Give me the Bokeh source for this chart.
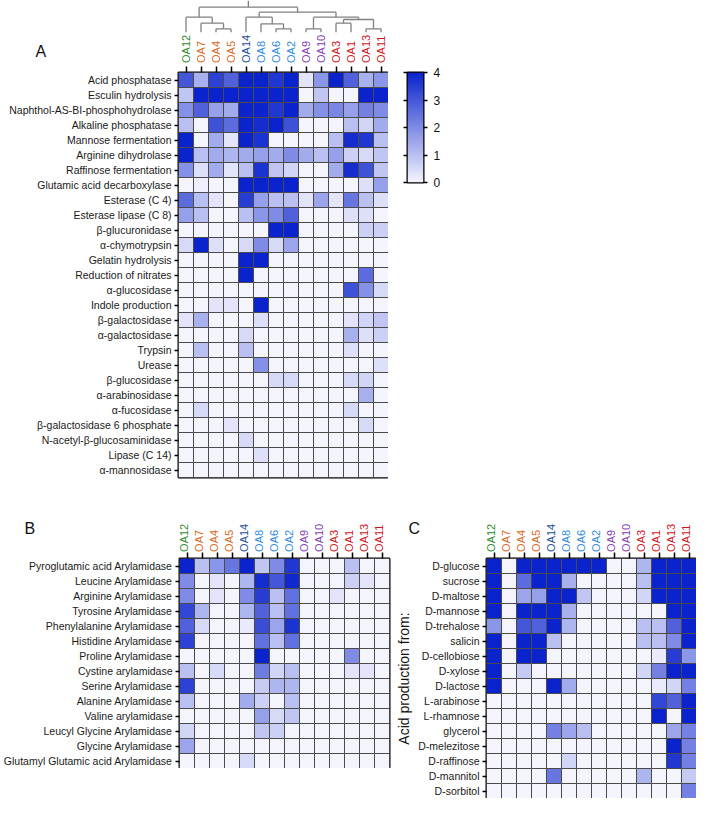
import numpy as np
from bokeh.plotting import figure
from bokeh.models import (Range1d, FactorRange, LinearColorMapper, FixedTicker,
                          LinearAxis, ColumnDataSource)
from bokeh.layouts import column, row
from bokeh.embed import file_html
from bokeh.resources import INLINE
from bokeh.core.properties import value

FONT = "Liberation Sans"

# ---------------- data ----------------
STRAINS = ["OA12", "OA7", "OA4", "OA5", "OA14", "OA8", "OA6", "OA2",
           "OA9", "OA10", "OA3", "OA1", "OA13", "OA11"]
STRAIN_COLORS = ["#2f8a2f", "#d8691e", "#d8691e", "#d8691e", "#1d4f96",
                 "#2f8ae0", "#2f8ae0", "#2f8ae0", "#8442b4", "#8442b4",
                 "#d0141c", "#d0141c", "#d0141c", "#d0141c"]

# hierarchical clustering of the strains: (member, member, height)
DENDRO_MERGES = [
    ("OA4", "OA5", 3.4),     # m0
    ("OA7", "m0", 9.0),      # m1
    ("OA12", "m1", 15.0),    # m2
    ("OA6", "OA2", 3.4),     # m3
    ("OA8", "m3", 8.4),      # m4
    ("OA14", "m4", 15.0),    # m5
    ("OA9", "OA10", 3.4),    # m6
    ("OA3", "OA1", 9.0),     # m7
    ("OA13", "OA11", 3.4),   # m8
    ("m7", "m8", 12.7),      # m9
    ("m6", "m9", 15.0),      # m10
    ("m5", "m10", 20.0),     # m11
    ("m2", "m11", 25.0),     # m12 (root)
]

A_TESTS = ["Acid phosphatase", "Esculin hydrolysis", "Naphthol-AS-BI-phosphohydrolase",
           "Alkaline phosphatase", "Mannose fermentation", "Arginine dihydrolase",
           "Raffinose fermentation", "Glutamic acid decarboxylase", "Esterase (C 4)",
           "Esterase lipase (C 8)", "β-glucuronidase", "α-chymotrypsin",
           "Gelatin hydrolysis", "Reduction of nitrates", "α-glucosidase",
           "Indole production", "β-galactosidase", "α-galactosidase", "Trypsin",
           "Urease", "β-glucosidase", "α-arabinosidase", "α-fucosidase",
           "β-galactosidase 6 phosphate", "N-acetyl-β-glucosaminidase",
           "Lipase (C 14)", "α-mannosidase"]
A_VALUES = [
    [3.0, 1.3, 3.4, 2.8, 4.0, 4.0, 3.6, 4.0, 0.3, 1.8, 4.0, 2.8, 1.3, 1.8],
    [0.9, 4.0, 4.0, 4.0, 4.0, 4.0, 4.0, 4.0, 0.0, 0.9, 0.0, 0.0, 4.0, 4.0],
    [1.9, 2.8, 1.6, 1.4, 4.0, 4.0, 3.6, 4.0, 1.4, 1.9, 2.1, 1.6, 2.2, 2.0],
    [1.0, 0.0, 3.1, 2.6, 4.0, 3.8, 4.0, 3.1, 0.0, 0.0, 0.0, 1.0, 0.6, 1.4],
    [4.0, 0.0, 1.4, 0.3, 4.0, 3.7, 0.0, 0.0, 0.0, 0.0, 1.0, 3.8, 3.6, 1.0],
    [4.0, 1.0, 1.4, 1.2, 1.4, 1.6, 1.4, 2.0, 1.4, 1.0, 1.6, 0.7, 0.5, 0.9],
    [1.9, 0.4, 1.4, 0.3, 1.0, 3.7, 0.9, 0.6, 0.0, 0.0, 1.4, 3.8, 3.1, 0.9],
    [0.0, 0.1, 0.0, 0.0, 4.0, 4.0, 4.0, 4.0, 0.0, 0.0, 0.0, 0.0, 0.4, 1.6],
    [2.6, 1.0, 0.3, 0.0, 3.5, 1.6, 1.0, 1.0, 0.3, 1.5, 0.3, 2.4, 1.0, 0.4],
    [1.6, 1.0, 0.0, 0.0, 1.0, 1.8, 2.0, 2.8, 0.0, 0.0, 0.0, 0.4, 0.4, 0.0],
    [0.0, 0.0, 0.0, 0.0, 0.0, 0.0, 4.0, 4.0, 0.0, 0.0, 0.0, 0.0, 0.7, 0.7],
    [0.5, 4.0, 0.4, 0.0, 0.5, 2.0, 0.5, 1.5, 0.0, 0.0, 0.0, 0.0, 0.0, 0.0],
    [0.0, 0.0, 0.0, 0.0, 4.0, 4.0, 0.0, 0.0, 0.0, 0.0, 0.0, 0.0, 0.0, 0.0],
    [0.0, 0.0, 0.0, 0.0, 4.0, 0.0, 0.0, 0.0, 0.0, 0.0, 0.0, 0.0, 2.6, 0.0],
    [0.0, 0.0, 0.0, 0.0, 0.0, 0.0, 0.0, 0.0, 0.0, 0.0, 0.0, 3.1, 1.9, 0.5],
    [0.0, 0.0, 0.3, 0.3, 0.0, 4.0, 0.0, 0.0, 0.0, 0.0, 0.0, 0.0, 0.0, 0.0],
    [0.3, 1.3, 0.0, 0.0, 0.0, 0.4, 0.0, 0.0, 0.0, 0.0, 0.0, 0.3, 0.6, 0.9],
    [0.0, 0.0, 0.0, 0.0, 0.5, 0.0, 0.0, 0.0, 0.0, 0.0, 0.0, 1.3, 0.4, 0.7],
    [0.0, 1.0, 0.0, 0.0, 1.0, 0.0, 0.0, 0.0, 0.0, 0.0, 0.0, 0.4, 0.0, 0.0],
    [0.0, 0.0, 0.0, 0.0, 0.0, 1.9, 0.0, 0.0, 0.0, 0.0, 0.0, 0.0, 0.0, 0.4],
    [0.0, 0.0, 0.0, 0.0, 0.0, 0.0, 0.5, 0.5, 0.0, 0.0, 0.0, 0.5, 0.6, 0.0],
    [0.0, 0.0, 0.0, 0.0, 0.0, 0.0, 0.0, 0.0, 0.0, 0.0, 0.0, 0.0, 1.3, 0.0],
    [0.0, 0.5, 0.0, 0.0, 0.0, 0.0, 0.0, 0.0, 0.0, 0.0, 0.0, 0.5, 0.0, 0.0],
    [0.0, 0.0, 0.0, 0.3, 0.0, 0.0, 0.0, 0.0, 0.0, 0.0, 0.0, 0.0, 0.5, 0.0],
    [0.0, 0.0, 0.0, 0.0, 0.5, 0.0, 0.0, 0.0, 0.0, 0.0, 0.0, 0.0, 0.0, 0.0],
    [0.0, 0.0, 0.0, 0.0, 0.0, 0.4, 0.0, 0.0, 0.0, 0.0, 0.0, 0.0, 0.0, 0.0],
    [0.0, 0.0, 0.0, 0.0, 0.0, 0.0, 0.0, 0.0, 0.0, 0.0, 0.0, 0.0, 0.0, 0.0],
]

B_TESTS = ["Pyroglutamic acid Arylamidase", "Leucine Arylamidase", "Arginine Arylamidase",
           "Tyrosine Arylamidase", "Phenylalanine Arylamidase", "Histidine Arylamidase",
           "Proline Arylamidase", "Cystine arylamidase", "Serine Arylamidase",
           "Alanine Arylamidase", "Valine arylamidase", "Leucyl Glycine Arylamidase",
           "Glycine Arylamidase", "Glutamyl Glutamic acid Arylamidase"]
B_VALUES = [
    [4.0, 1.0, 1.8, 2.4, 4.0, 0.9, 2.0, 3.6, 0.0, 0.0, 0.0, 1.0, 0.0, 0.0],
    [2.0, 0.0, 0.3, 0.0, 1.2, 3.8, 3.0, 3.9, 0.0, 0.0, 0.0, 0.7, 0.3, 0.0],
    [2.0, 0.0, 0.3, 0.0, 2.0, 3.5, 1.0, 2.5, 0.0, 0.0, 0.3, 0.0, 0.0, 0.0],
    [3.3, 1.2, 0.0, 0.0, 1.2, 2.8, 1.0, 2.5, 0.0, 0.0, 0.0, 0.0, 0.0, 0.0],
    [2.8, 0.5, 0.0, 0.0, 0.2, 3.2, 1.5, 3.7, 0.0, 0.0, 0.0, 0.0, 0.0, 0.0],
    [3.4, 0.0, 0.0, 0.0, 0.0, 2.5, 1.0, 2.5, 0.0, 0.0, 0.0, 0.0, 0.0, 0.0],
    [0.0, 0.0, 0.0, 0.0, 0.0, 4.0, 0.0, 0.0, 0.0, 0.0, 0.0, 2.0, 0.0, 0.0],
    [1.0, 0.0, 0.5, 0.0, 0.0, 2.3, 0.6, 1.0, 0.0, 0.0, 0.0, 0.3, 0.3, 0.0],
    [3.4, 0.0, 0.0, 0.0, 0.0, 0.8, 1.2, 1.2, 0.0, 0.0, 0.0, 0.0, 0.0, 0.0],
    [1.0, 0.0, 0.0, 0.0, 1.4, 0.7, 0.0, 1.0, 0.0, 0.0, 0.0, 0.0, 0.0, 0.0],
    [0.0, 0.0, 0.0, 0.0, 0.0, 1.6, 0.5, 0.9, 0.0, 0.0, 0.0, 0.0, 0.0, 0.0],
    [0.6, 0.0, 0.0, 0.0, 0.0, 0.9, 0.7, 0.0, 0.0, 0.0, 0.0, 0.0, 0.0, 0.0],
    [1.5, 0.0, 0.0, 0.0, 0.0, 0.0, 0.0, 0.0, 0.0, 0.0, 0.0, 0.0, 0.0, 0.0],
    [0.0, 0.0, 0.0, 0.0, 0.5, 0.0, 0.0, 0.0, 0.0, 0.0, 0.0, 0.0, 0.0, 0.0],
]

C_SUGARS = ["D-glucose", "sucrose", "D-maltose", "D-mannose", "D-trehalose", "salicin",
            "D-cellobiose", "D-xylose", "D-lactose", "L-arabinose", "L-rhamnose",
            "glycerol", "D-melezitose", "D-raffinose", "D-mannitol", "D-sorbitol"]
C_VALUES = [
    [4.0, 0.0, 4.0, 4.0, 4.0, 4.0, 4.0, 4.0, 0.0, 0.0, 1.2, 4.0, 4.0, 4.0],
    [4.0, 0.0, 2.6, 4.0, 4.0, 1.3, 0.0, 0.0, 0.0, 0.0, 1.0, 4.0, 4.0, 4.0],
    [4.0, 0.0, 1.5, 1.6, 4.0, 4.0, 0.9, 0.0, 0.0, 0.0, 0.6, 4.0, 4.0, 4.0],
    [4.0, 0.0, 4.0, 4.0, 4.0, 1.3, 0.0, 0.0, 0.0, 0.0, 0.0, 0.0, 4.0, 4.0],
    [1.8, 0.0, 3.0, 2.8, 4.0, 1.2, 0.0, 0.0, 0.0, 0.0, 1.0, 1.0, 2.8, 4.0],
    [4.0, 0.0, 4.0, 4.0, 1.0, 0.0, 0.0, 0.0, 0.0, 0.0, 1.0, 1.0, 2.0, 4.0],
    [4.0, 0.0, 4.0, 4.0, 0.0, 0.0, 0.0, 0.0, 0.0, 0.0, 0.0, 0.2, 3.5, 1.8],
    [4.0, 0.0, 0.8, 0.0, 0.0, 0.0, 0.0, 0.0, 0.0, 0.0, 0.6, 2.2, 4.0, 4.0],
    [4.0, 0.0, 0.0, 0.0, 4.0, 1.4, 0.0, 0.0, 0.0, 0.0, 0.0, 0.2, 0.6, 2.2],
    [0.0, 0.0, 0.0, 0.0, 0.0, 0.0, 0.0, 0.0, 0.0, 0.0, 0.0, 3.3, 2.8, 4.0],
    [0.0, 0.0, 0.0, 0.0, 0.0, 0.0, 0.0, 0.0, 0.0, 0.0, 0.0, 4.0, 0.0, 4.0],
    [0.0, 0.0, 0.0, 0.0, 2.2, 1.5, 1.0, 0.0, 0.0, 0.0, 0.0, 0.0, 1.5, 2.2],
    [0.0, 0.0, 0.0, 0.0, 0.0, 0.0, 0.0, 0.0, 0.0, 0.0, 0.0, 0.0, 4.0, 2.2],
    [0.0, 0.0, 0.0, 0.0, 0.0, 0.6, 0.0, 0.0, 0.0, 0.0, 0.0, 0.0, 3.6, 2.2],
    [0.0, 0.0, 0.0, 0.0, 2.4, 0.0, 0.0, 0.0, 0.0, 0.0, 1.2, 0.0, 0.0, 0.8],
    [0.0, 0.0, 0.0, 0.0, 0.0, 0.0, 0.0, 0.0, 0.0, 0.0, 0.0, 0.0, 0.0, 2.2],
]
C_TITLE = "Acid production from:"

SCALE_LOW, SCALE_HIGH = 0, 4
COLORBAR_TICKS = [0, 1, 2, 3, 4]

# ---------------- styling ----------------
CELL = 15
LOW_RGB = (244, 244, 253)
HIGH_RGB = (10, 35, 205)
_t = np.linspace(0, 1, 256)
PALETTE = ["#%02x%02x%02x" % tuple(int(round(lo + (hi - lo) * tt))
                                   for lo, hi in zip(LOW_RGB, HIGH_RGB)) for tt in _t]
mapper = LinearColorMapper(palette=PALETTE, low=SCALE_LOW, high=SCALE_HIGH)

COMMON = dict(output_backend="svg", toolbar_location=None)


def hide_labels(ax):
    ax.major_label_text_font_size = "0px"
    ax.major_label_text_color = None
    ax.major_label_standoff = 0


def heat(rows, vals, left, right, top, bottom, ylabel=None):
    xs, ys, vs = [], [], []
    for r, rv in zip(rows, vals):
        for s, v in zip(STRAINS, rv):
            xs.append(s); ys.append(r); vs.append(v)
    src = ColumnDataSource(dict(strain=xs, test=ys, v=vs))
    p = figure(x_range=FactorRange(*STRAINS), y_range=FactorRange(*rows[::-1]),
               frame_width=CELL * len(STRAINS), frame_height=CELL * len(rows),
               x_axis_location="above", min_border_left=left, min_border_right=right,
               min_border_top=top, min_border_bottom=bottom, **COMMON)
    p.rect(x="strain", y="test", width=1, height=1, source=src,
           fill_color={"field": "v", "transform": mapper},
           line_color="#4a4a4a", line_width=1)
    p.grid.visible = False
    p.outline_line_color = "black"
    p.outline_line_width = 2
    xa = p.xaxis[0]
    hide_labels(xa)
    xa.major_tick_out = 6
    xa.major_tick_in = 0
    xa.major_tick_line_width = 1.5
    xa.axis_line_color = None
    ya = p.yaxis[0]
    ya.major_label_text_font = FONT
    ya.major_label_text_font_size = "10.5px"
    ya.major_label_text_color = "#1a1a1a"
    ya.major_label_standoff = 3
    ya.major_tick_out = 4
    ya.major_tick_in = 0
    ya.major_tick_line_width = 1.5
    ya.axis_line_color = None
    if ylabel:
        ya.axis_label = ylabel
        ya.axis_label_text_font = FONT
        ya.axis_label_text_font_size = "14px"
        ya.axis_label_text_font_style = "normal"
        ya.axis_label_text_color = "#111111"
        ya.axis_label_standoff = 3
    return p


def header(width, left, y0, y1, letter, letter_x, letter_y, label_y, dendro=False):
    p = figure(width=width, height=int(round(y1 - y0)),
               x_range=Range1d(-left / CELL, (width - left) / CELL),
               y_range=Range1d(y0, y1), x_axis_type=None, y_axis_type=None,
               min_border=0, **COMMON)
    p.grid.visible = False
    p.outline_line_color = None
    if dendro:
        pos = {s: i + 0.5 for i, s in enumerate(STRAINS)}
        hgt = {s: 0.0 for s in STRAINS}
        x0s, y0s, x1s, y1s = [], [], [], []
        for k, (a, b, h) in enumerate(DENDRO_MERGES):
            for m in (a, b):
                x0s.append(pos[m]); y0s.append(hgt[m]); x1s.append(pos[m]); y1s.append(h)
            x0s.append(pos[a]); y0s.append(h); x1s.append(pos[b]); y1s.append(h)
            pos["m%d" % k] = (pos[a] + pos[b]) / 2
            hgt["m%d" % k] = h
        root = "m%d" % (len(DENDRO_MERGES) - 1)
        x0s.append(pos[root]); y0s.append(hgt[root]); x1s.append(pos[root]); y1s.append(y1)
        p.segment(x0=x0s, y0=y0s, x1=x1s, y1=y1s, line_color="#808080", line_width=1.3)
    p.text(x=[i + 0.5 for i in range(len(STRAINS))], y=[label_y] * len(STRAINS),
           text=STRAINS, angle=np.pi / 2, text_align="left", text_baseline="middle",
           text_color=STRAIN_COLORS, text_font=value(FONT), text_font_size="11px")
    p.text(x=[letter_x], y=[letter_y], text=[letter], text_align="left",
           text_baseline="alphabetic", text_font=value(FONT), text_font_size="16px",
           text_color="#111111")
    return p


# ---------------- panel A ----------------
A_LEFT = 178
dendA = header(A_LEFT + CELL * 14, A_LEFT, -31.3, 31.7, "A",
               (-A_LEFT + 35) / CELL, -19.5, -30.8, dendro=True)
heatA = heat(A_TESTS, A_VALUES, A_LEFT, 0, 8, 36)

cb = figure(frame_width=16, frame_height=110, x_range=Range1d(0, 1),
            y_range=Range1d(SCALE_LOW, SCALE_HIGH), x_axis_type=None,
            min_border_left=19, min_border_right=30, min_border_top=9,
            min_border_bottom=10, **COMMON)
grad = np.linspace(SCALE_LOW, SCALE_HIGH, 256).reshape(256, 1)
cb.image(image=[grad], x=0, y=SCALE_LOW, dw=1, dh=SCALE_HIGH - SCALE_LOW,
         color_mapper=mapper)
cb.grid.visible = False
cb.outline_line_color = "black"
cb.outline_line_width = 2
la = cb.yaxis[0]
la.ticker = FixedTicker(ticks=COLORBAR_TICKS)
hide_labels(la)
la.major_tick_out = 4
la.major_tick_in = 0
la.major_tick_line_width = 1.5
la.minor_tick_line_color = None
la.axis_line_color = None
ra = LinearAxis(ticker=FixedTicker(ticks=COLORBAR_TICKS))
ra.major_label_text_font = FONT
ra.major_label_text_font_size = "12px"
ra.major_label_text_color = "#111111"
ra.major_tick_out = 4
ra.major_tick_in = 0
ra.major_tick_line_width = 1.5
ra.minor_tick_line_color = None
ra.axis_line_color = None
ra.major_label_standoff = 6
cb.add_layout(ra, "right")

# ---------------- panel B ----------------
B_LEFT = 176
B_RIGHT = 4
B_W = B_LEFT + CELL * 14 + B_RIGHT
topB = header(B_W, B_LEFT, 0, 40, "B", (-B_LEFT + 24) / CELL, 24, 0.6)
heatB = heat(B_TESTS, B_VALUES, B_LEFT, B_RIGHT, 6, 0)

# ---------------- panel C ----------------
C_LEFT = 90
C_W = C_LEFT + CELL * 14
topC = header(C_W, C_LEFT, 0, 40, "C", (-C_LEFT + 15) / CELL, 24, 0.6)
heatC = heat(C_SUGARS, C_VALUES, C_LEFT, 0, 6, 0, ylabel=C_TITLE)

# rows wrap the heatmaps so that the layout does not re-align the header frames
layout = column(dendA, row(heatA, cb),
                row(column(topB, row(heatB)), column(topC, row(heatC))))

open("out.html", "w").write(file_html(layout, INLINE))
